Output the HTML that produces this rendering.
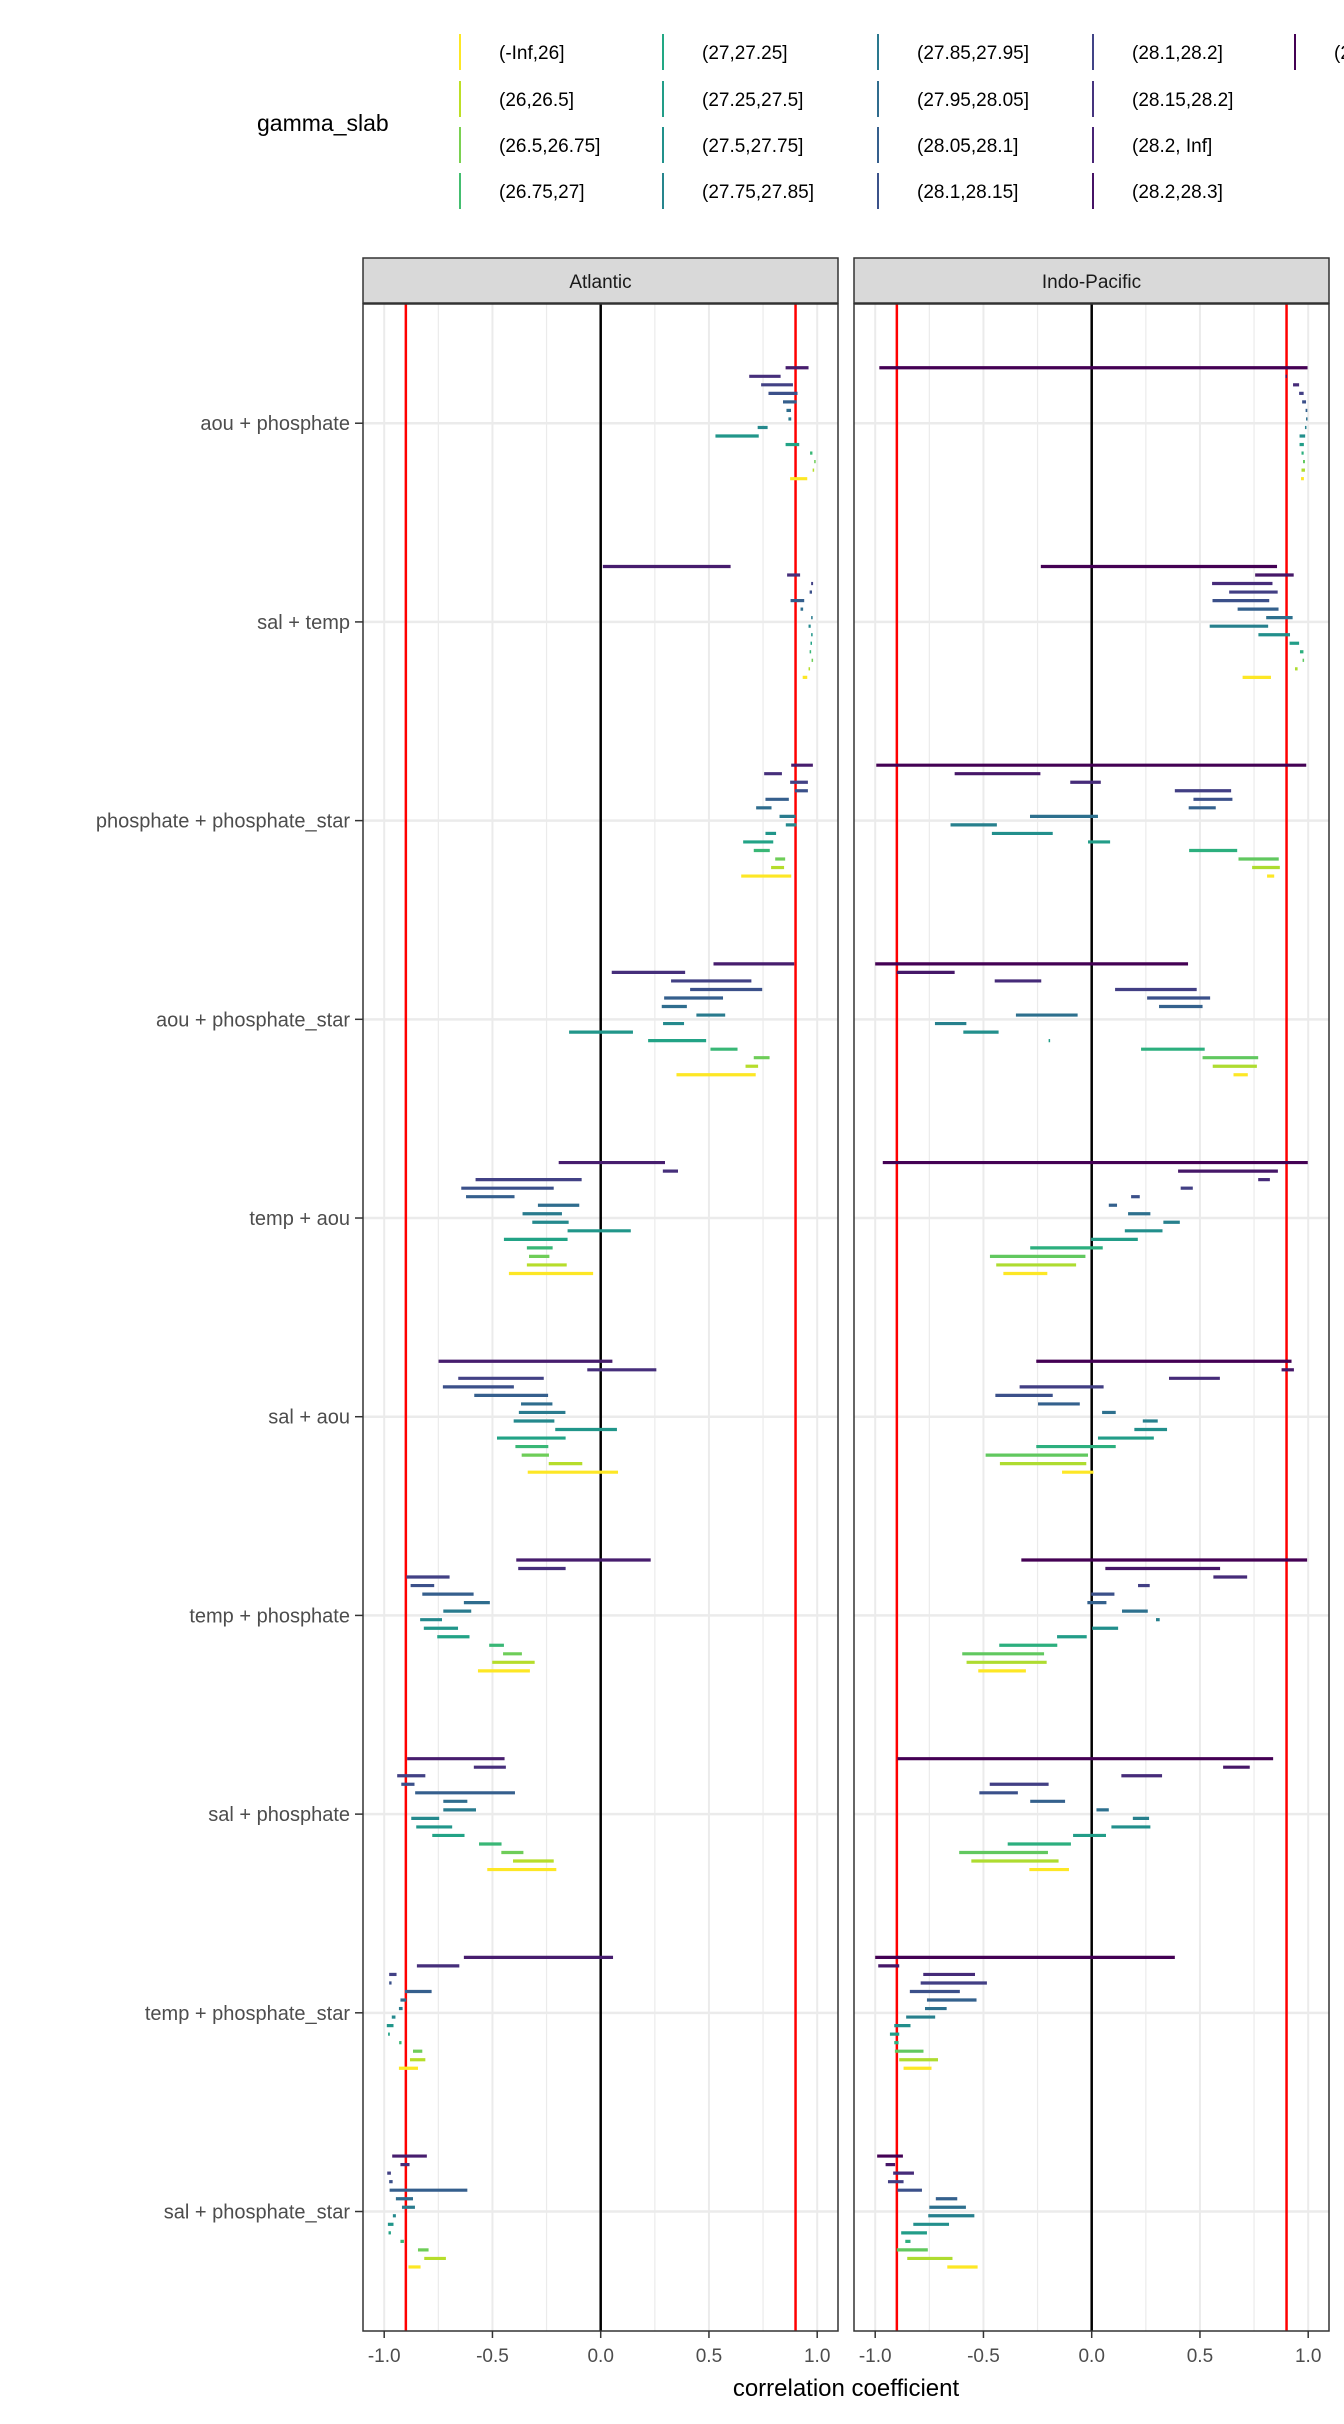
<!DOCTYPE html>
<html><head><meta charset="utf-8"><style>
html,body{margin:0;padding:0;background:#fff;}
body{width:1344px;height:2419px;overflow:hidden;font-family:"Liberation Sans",sans-serif;}
svg text{font-family:"Liberation Sans",sans-serif;}
</style></head><body>
<svg id="chart" width="1344" height="2419" viewBox="0 0 1344 2419" xmlns="http://www.w3.org/2000/svg"></svg>
<script>
const categories = ["aou + phosphate","sal + temp","phosphate + phosphate_star","aou + phosphate_star","temp + aou","sal + aou","temp + phosphate","sal + phosphate","temp + phosphate_star","sal + phosphate_star"];
const panels = ["Atlantic","Indo-Pacific"];
const legendLevels = ["(-Inf,26]","(26,26.5]","(26.5,26.75]","(26.75,27]","(27,27.25]","(27.25,27.5]","(27.5,27.75]","(27.75,27.85]","(27.85,27.95]","(27.95,28.05]","(28.05,28.1]","(28.1,28.15]","(28.1,28.2]","(28.15,28.2]","(28.2, Inf]","(28.2,28.3]","(28.3, Inf]"];
const xTicks = [-1,-0.5,0,0.5,1];
const xTickLabels = ["-1.0","-0.5","0.0","0.5","1.0"];
const refLines = [-0.9,0.9];
const atlanticLo = [
[0.854,0.686,0.741,0.775,0.842,0.858,0.867,0.725,0.53,0.854,0.967,0.986,0.979,0.875],
[0.01,0.861,0.972,0.965,0.877,0.923,0.972,0.96,0.972,0.969,0.965,0.974,0.96,0.933],
[0.88,0.755,0.875,0.897,0.761,0.718,0.826,0.855,0.761,0.658,0.707,0.806,0.787,0.649],
[0.521,0.051,0.325,0.413,0.293,0.282,0.442,0.288,-0.146,0.219,0.507,0.707,0.669,0.35],
[-0.194,0.287,-0.578,-0.644,-0.622,-0.29,-0.361,-0.316,-0.153,-0.447,-0.341,-0.331,-0.341,-0.424],
[-0.749,-0.062,-0.658,-0.729,-0.584,-0.368,-0.378,-0.402,-0.21,-0.479,-0.394,-0.365,-0.24,-0.337],
[-0.39,-0.381,-0.897,-0.878,-0.824,-0.632,-0.727,-0.834,-0.817,-0.755,-0.515,-0.451,-0.501,-0.567],
[-0.894,-0.586,-0.94,-0.921,-0.857,-0.727,-0.727,-0.875,-0.852,-0.778,-0.562,-0.459,-0.405,-0.524],
[-0.632,-0.849,-0.977,-0.977,-0.904,-0.925,-0.932,-0.965,-0.988,-0.982,-0.931,-0.867,-0.881,-0.932],
[-0.963,-0.925,-0.986,-0.977,-0.975,-0.946,-0.918,-0.96,-0.983,-0.98,-0.925,-0.844,-0.815,-0.888]];
const atlanticHi = [
[0.96,0.831,0.888,0.909,0.905,0.879,0.88,0.771,0.73,0.917,0.978,0.99,0.983,0.954],
[0.6,0.921,0.981,0.976,0.94,0.935,0.979,0.97,0.977,0.972,0.972,0.981,0.965,0.954],
[0.98,0.837,0.957,0.957,0.869,0.789,0.9,0.904,0.81,0.797,0.781,0.852,0.847,0.88],
[0.894,0.39,0.696,0.746,0.565,0.398,0.575,0.385,0.149,0.487,0.632,0.78,0.727,0.716],
[0.297,0.357,-0.088,-0.217,-0.398,-0.099,-0.179,-0.148,0.139,-0.153,-0.222,-0.237,-0.157,-0.035],
[0.054,0.257,-0.263,-0.401,-0.243,-0.223,-0.163,-0.214,0.075,-0.162,-0.242,-0.239,-0.085,0.08],
[0.231,-0.162,-0.698,-0.769,-0.587,-0.512,-0.598,-0.733,-0.659,-0.606,-0.447,-0.364,-0.305,-0.327],
[-0.444,-0.438,-0.81,-0.86,-0.396,-0.616,-0.576,-0.746,-0.686,-0.629,-0.458,-0.357,-0.217,-0.205],
[0.057,-0.653,-0.943,-0.966,-0.781,-0.898,-0.915,-0.948,-0.957,-0.974,-0.92,-0.824,-0.81,-0.844],
[-0.803,-0.883,-0.969,-0.961,-0.616,-0.867,-0.858,-0.946,-0.957,-0.969,-0.909,-0.795,-0.715,-0.832]];
const indoLo = [
[-0.981,0.895,0.93,0.958,0.972,0.988,0.99,0.985,0.96,0.96,0.969,0.976,0.969,0.967],
[-0.235,0.755,0.556,0.635,0.558,0.674,0.806,0.545,0.77,0.914,0.962,0.974,0.939,0.697],
[-0.995,-0.633,-0.099,0.384,0.47,0.448,-0.285,-0.652,-0.461,-0.017,0.45,0.678,0.741,0.81],
[-1.0,-0.9,-0.448,0.108,0.256,0.311,-0.35,-0.724,-0.593,-0.199,0.228,0.512,0.559,0.655],
[-0.965,0.399,0.769,0.411,0.182,0.079,0.168,0.331,0.153,-0.003,-0.284,-0.47,-0.441,-0.408],
[-0.256,0.877,0.357,-0.333,-0.445,-0.248,0.048,0.236,0.197,0.029,-0.256,-0.49,-0.424,-0.137],
[-0.325,0.063,0.562,0.214,-0.002,-0.02,0.14,0.297,0.002,-0.16,-0.427,-0.598,-0.578,-0.524],
[-0.897,0.607,0.137,-0.471,-0.519,-0.284,0.022,0.19,0.091,-0.086,-0.388,-0.612,-0.556,-0.288],
[-1.0,-0.986,-0.778,-0.79,-0.84,-0.761,-0.77,-0.857,-0.912,-0.932,-0.912,-0.909,-0.889,-0.869],
[-0.991,-0.952,-0.917,-0.941,-0.897,-0.72,-0.75,-0.755,-0.824,-0.88,-0.861,-0.9,-0.852,-0.667]];
const indoHi = [
[0.997,0.9,0.958,0.979,0.99,0.996,0.996,0.992,0.986,0.98,0.979,0.985,0.985,0.98],
[0.856,0.933,0.835,0.859,0.82,0.863,0.928,0.815,0.916,0.958,0.978,0.981,0.951,0.828],
[0.991,-0.237,0.042,0.644,0.65,0.573,0.029,-0.438,-0.18,0.085,0.672,0.864,0.869,0.843],
[0.445,-0.633,-0.233,0.485,0.547,0.512,-0.065,-0.579,-0.43,-0.194,0.522,0.769,0.763,0.721],
[0.998,0.86,0.823,0.467,0.222,0.117,0.271,0.407,0.327,0.213,0.051,-0.029,-0.072,-0.205],
[0.923,0.934,0.592,0.055,-0.18,-0.055,0.111,0.305,0.348,0.287,0.111,-0.017,-0.025,0.008],
[0.995,0.593,0.718,0.268,0.105,0.068,0.259,0.314,0.122,-0.023,-0.159,-0.22,-0.208,-0.304],
[0.838,0.73,0.325,-0.199,-0.341,-0.123,0.079,0.265,0.271,0.066,-0.096,-0.202,-0.153,-0.105],
[0.384,-0.889,-0.539,-0.484,-0.609,-0.532,-0.67,-0.723,-0.837,-0.889,-0.892,-0.777,-0.71,-0.74],
[-0.872,-0.908,-0.821,-0.869,-0.784,-0.621,-0.581,-0.542,-0.659,-0.761,-0.837,-0.757,-0.643,-0.527]];

const NS="http://www.w3.org/2000/svg";
const svg=document.getElementById('chart');
function mk(tag,attrs,parent){const e=document.createElementNS(NS,tag);for(const k in attrs)e.setAttribute(k,attrs[k]);(parent||svg).appendChild(e);return e;}
const stops=[[0,[68,1,84]],[0.125,[72,36,117]],[0.25,[65,68,135]],[0.375,[53,95,141]],[0.5,[42,120,142]],[0.625,[33,145,140]],[0.75,[34,168,132]],[0.8125,[68,190,112]],[0.875,[122,209,81]],[0.9375,[189,223,38]],[1,[253,231,37]]];
function viridis(t){for(let i=1;i<stops.length;i++){if(t<=stops[i][0]){const a=stops[i-1],b=stops[i];const f=(t-a[0])/(b[0]-a[0]);const c=a[1].map((v,j)=>Math.round(v+(b[1][j]-v)*f));return `rgb(${c[0]},${c[1]},${c[2]})`;}}return 'rgb(253,231,37)';}

const panelTop=304, panelBot=2331, catStep=198.7, slotStep=8.53;
const panelX=[[363,838],[854,1329]];
const zeroX=[600.7,1091.7], unit=216.5;
function xScale(p,v){return zeroX[p]+v*unit;}
function yCat(i){return panelTop+(0.6+i)*catStep;}
function ySlot(i,k){return yCat(i)+(k-6.5)*slotStep;}

const lg=mk('g',{});


const lt=mk('text',{x:257,y:131,'font-size':23,fill:'#000'},lg);lt.textContent='gamma_slab';


const colKeyX=[460,663,878,1093,1295], rowY=[52,99,145,191];
legendLevels.forEach((lab,i)=>{
  const c=Math.floor(i/4), r=i%4;
  const g=mk('g',{},lg);
  
  
  mk('line',{x1:colKeyX[c],x2:colKeyX[c],y1:rowY[r]-18,y2:rowY[r]+18,stroke:viridis(1-i/16),'stroke-width':2},g);
  const t=mk('text',{x:colKeyX[c]+39,y:rowY[r]+7,'font-size':19,fill:'#000'},g);t.textContent=lab;
});

panels.forEach((name,p)=>{
  const [x0,x1]=panelX[p];
  const g=mk('g',{});
  
  
  mk('rect',{x:x0,y:258,width:x1-x0,height:45,fill:'#D9D9D9',stroke:'#333',"stroke-width":1.5},g);
  const st=mk('text',{x:(x0+x1)/2,y:288,'text-anchor':'middle','font-size':19,fill:'#1A1A1A'},g);st.textContent=name;
  
  
  mk('rect',{x:x0,y:panelTop,width:x1-x0,height:panelBot-panelTop,fill:'#fff'},g);
  for(let v=-1;v<=1.001;v+=0.25){const x=xScale(p,v);mk('line',{x1:x,x2:x,y1:panelTop,y2:panelBot,stroke:'#EBEBEB','stroke-width':(Math.abs(v*2-Math.round(v*2))<1e-6)?2:1.2},g);}
  categories.forEach((c,i)=>{const y=yCat(i);mk('line',{x1:x0,x2:x1,y1:y,y2:y,stroke:'#EBEBEB','stroke-width':2.5},g);});
  const lo=p===0?atlanticLo:indoLo, hi=p===0?atlanticHi:indoHi;
  const tStart=p===0?0.1:0;
  const zl=mk('line',{x1:xScale(p,0),x2:xScale(p,0),y1:panelTop,y2:panelBot,stroke:'#000','stroke-width':2.5},g);
  
  
  refLines.forEach(v=>{const r=mk('line',{x1:xScale(p,v),x2:xScale(p,v),y1:panelTop,y2:panelBot,stroke:'#FF0000','stroke-width':2.5},g);
    
    });
  categories.forEach((c,i)=>{
    for(let k=0;k<14;k++){
      const a=xScale(p,lo[i][k]), b=xScale(p,hi[i][k]);
      const y=ySlot(i,k);
      const col=viridis(tStart+(1-tStart)*k/13);
      const ln=mk('line',{x1:a,x2:Math.max(b,a+1.5),y1:y,y2:y,stroke:col,'stroke-width':3.2},g);
      
      
    }
  });
  mk('rect',{x:x0,y:panelTop,width:x1-x0,height:panelBot-panelTop,fill:'none',stroke:'#333','stroke-width':1.5},g);
  xTicks.forEach((v,j)=>{const x=xScale(p,v);mk('line',{x1:x,x2:x,y1:panelBot,y2:panelBot+7,stroke:'#333','stroke-width':1.5},g);
    const t=mk('text',{x:x,y:2362,'text-anchor':'middle','font-size':19,fill:'#4D4D4D'},g);t.textContent=xTickLabels[j];
    
    });
});
categories.forEach((c,i)=>{const y=yCat(i);
  mk('line',{x1:355,x2:363,y1:y,y2:y,stroke:'#333','stroke-width':1.5});
  const t=mk('text',{x:350,y:y+7,'text-anchor':'end','font-size':20,fill:'#4D4D4D'});t.textContent=c;
  
  });
const xt=mk('text',{x:846,y:2396,'text-anchor':'middle','font-size':24,fill:'#000'});xt.textContent='correlation coefficient';


</script>
</body></html>
